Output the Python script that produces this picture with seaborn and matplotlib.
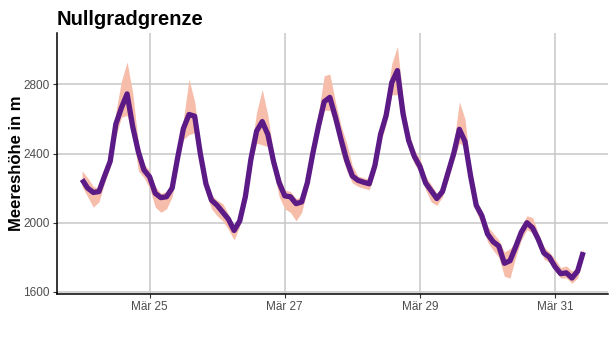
import numpy as np
import pandas as pd
import matplotlib
matplotlib.use("Agg")
import matplotlib.pyplot as plt
import matplotlib.dates as mdates
import seaborn as sns

# --- data (2-hourly, starting Mär 24 00:00) ---
hours = list(range(0, 180, 2))
mean_vals = [2250, 2200, 2175, 2180, 2270, 2355, 2570, 2665, 2745, 2555,
             2410, 2305, 2265, 2170, 2145, 2150, 2200, 2380, 2545, 2626,
             2616, 2400, 2225, 2130, 2100, 2060, 2020, 1955, 2010, 2150,
             2370, 2530, 2585, 2510, 2355, 2232, 2155, 2150, 2110, 2120,
             2230, 2404, 2560, 2700, 2725, 2610, 2480, 2360, 2270, 2245,
             2234, 2225, 2330, 2510, 2620, 2810, 2880, 2630, 2475, 2384,
             2325, 2230, 2185, 2140, 2180, 2290, 2400, 2540, 2470, 2270,
             2100, 2040, 1935, 1890, 1865, 1765, 1780, 1860, 1945, 2000,
             1970, 1905, 1825, 1800, 1745, 1705, 1710, 1680, 1720, 1830]
low_vals = [2210, 2150, 2090, 2120, 2230, 2320, 2500, 2610, 2620, 2520,
            2300, 2260, 2200, 2090, 2060, 2080, 2150, 2340, 2480, 2510,
            2520, 2360, 2170, 2080, 2040, 2010, 1960, 1900, 1980, 2120,
            2330, 2460, 2450, 2440, 2300, 2150, 2080, 2060, 2010, 2060,
            2190, 2360, 2520, 2650, 2650, 2560, 2400, 2300, 2230, 2210,
            2200, 2190, 2290, 2460, 2570, 2740, 2740, 2590, 2430, 2340,
            2290, 2190, 2120, 2100, 2150, 2250, 2360, 2460, 2440, 2230,
            2060, 1990, 1890, 1840, 1800, 1690, 1680, 1800, 1900, 1960,
            1940, 1880, 1790, 1770, 1720, 1680, 1680, 1650, 1680, 1800]
high_vals = [2300, 2260, 2210, 2200, 2300, 2400, 2640, 2820, 2930, 2750,
             2460, 2340, 2300, 2210, 2170, 2180, 2240, 2420, 2600, 2830,
             2700, 2440, 2260, 2160, 2130, 2110, 2050, 1980, 2040, 2180,
             2420, 2640, 2770, 2620, 2400, 2270, 2190, 2180, 2140, 2150,
             2270, 2440, 2640, 2850, 2860, 2700, 2560, 2460, 2330, 2270,
             2260, 2250, 2370, 2560, 2700, 2920, 3020, 2720, 2520, 2420,
             2370, 2270, 2220, 2170, 2220, 2330, 2450, 2700, 2600, 2310,
             2130, 2070, 1980, 1940, 1900, 1830, 1850, 1890, 1980, 2040,
             2030, 1940, 1860, 1830, 1790, 1740, 1750, 1720, 1740, 1850]
tick_days = [25, 27, 29, 31]

start = pd.Timestamp("2024-03-24 00:00")
df = pd.DataFrame({
    "time": start + pd.to_timedelta(hours, unit="h"),
    "mean": mean_vals,
    "low": low_vals,
    "high": high_vals,
})

sns.set_theme(style="white")
plt.rcParams["font.family"] = ["Liberation Sans", "DejaVu Sans"]

fig = plt.figure(figsize=(6.16, 3.39), dpi=100)
ax = fig.add_axes([0.0925, 0.133, 0.895, 0.770])

ax.fill_between(df["time"], df["low"], df["high"], color="#F6BEAA",
                linewidth=0, zorder=2)
sns.lineplot(data=df, x="time", y="mean", ax=ax, color="#5B1A86",
             linewidth=3.8, zorder=3, solid_joinstyle="round",
             solid_capstyle="butt")

ax.set_ylim(1588, 3098)
ax.margins(x=0.05)
ax.set_yticks([1600, 2000, 2400, 2800])
ax.xaxis.set_major_locator(mdates.DayLocator(bymonthday=tick_days))
ax.xaxis.set_major_formatter(mdates.DateFormatter("Mär %d"))

ax.grid(True, color="#C8C8C8", linewidth=1.1, zorder=0)
ax.set_axisbelow(True)
for side in ["top", "right"]:
    ax.spines[side].set_visible(False)
for side in ["left", "bottom"]:
    ax.spines[side].set_color("black")
    ax.spines[side].set_linewidth(1.1)

ax.tick_params(axis="both", which="major", length=3, width=0.8,
               color="#333333", labelsize=8.5, labelcolor="#4D4D4D",
               left=True, bottom=True, pad=2)

ax.set_xlabel("")
ax.set_ylabel("Meereshöhe in m", fontsize=12, fontweight="bold",
              color="black", labelpad=0)
ax.set_title("Nullgradgrenze", loc="left", fontsize=14.5,
             fontweight="bold", color="black", pad=6)

fig.savefig("out.png", dpi=100, facecolor="white")
